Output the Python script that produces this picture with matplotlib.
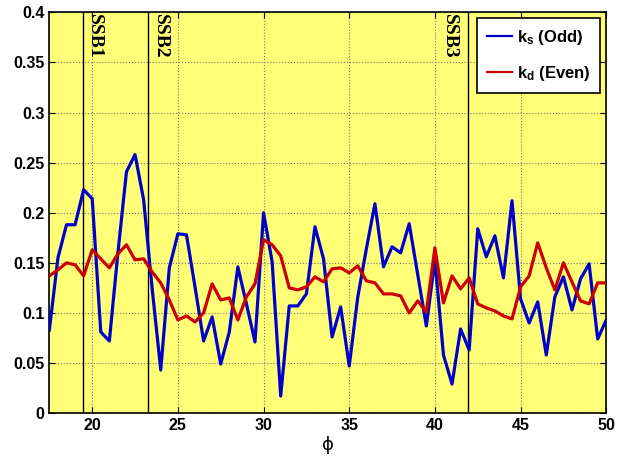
import matplotlib
matplotlib.use("Agg")
import matplotlib.pyplot as plt
import matplotlib.ticker as mticker
import numpy as np

plt.rcParams["font.family"] = ["Liberation Sans", "DejaVu Sans"]
plt.rcParams["font.weight"] = "bold"
plt.rcParams["mathtext.fontset"] = "custom"
plt.rcParams["mathtext.bf"] = "Liberation Sans:bold"
plt.rcParams["mathtext.rm"] = "Liberation Sans:bold"
plt.rcParams["mathtext.default"] = "bf"

# ── data ─────────────────────────────────────────────────────
phi = np.arange(17.5, 50.01, 0.5)

k_s = [0.083, 0.155, 0.188, 0.188, 0.223, 0.214, 0.081, 0.072, 0.160, 0.241,
       0.258, 0.213, 0.124, 0.043, 0.145, 0.179, 0.178, 0.126, 0.072, 0.096,
       0.049, 0.081, 0.146, 0.109, 0.071, 0.200, 0.151, 0.017, 0.107, 0.107,
       0.119, 0.186, 0.154, 0.076, 0.106, 0.047, 0.116, 0.164, 0.209, 0.146,
       0.166, 0.160, 0.189, 0.138, 0.087, 0.153, 0.058, 0.029, 0.084, 0.063,
       0.184, 0.156, 0.177, 0.135, 0.212, 0.114, 0.090, 0.111, 0.058, 0.116,
       0.136, 0.103, 0.134, 0.149, 0.074, 0.093]

k_d = [0.137, 0.143, 0.150, 0.148, 0.137, 0.163, 0.154, 0.145, 0.159, 0.168,
       0.153, 0.154, 0.141, 0.130, 0.113, 0.093, 0.097, 0.091, 0.100, 0.129,
       0.113, 0.115, 0.093, 0.116, 0.129, 0.173, 0.168, 0.157, 0.125, 0.123,
       0.126, 0.136, 0.131, 0.144, 0.145, 0.140, 0.147, 0.132, 0.130, 0.119,
       0.119, 0.117, 0.100, 0.112, 0.101, 0.165, 0.110, 0.137, 0.124, 0.135,
       0.109, 0.105, 0.102, 0.097, 0.094, 0.126, 0.137, 0.170, 0.145, 0.123,
       0.150, 0.131, 0.112, 0.109, 0.130, 0.130]

ssb_pos = [19.45, 23.26, 41.91]
ssb_names = ["SSB1", "SSB2", "SSB3"]
ssb_side = ["right", "right", "left"]   # label side relative to the line

y_ticks = [0, 0.05, 0.1, 0.15, 0.2, 0.25, 0.3, 0.35, 0.4]
x_ticks = [20, 25, 30, 35, 40, 45, 50]

# ── plot ─────────────────────────────────────────────────────
fig = plt.figure(figsize=(6.25, 4.57), dpi=100)
ax = fig.add_axes([0.079, 0.096, 0.891, 0.877])
ax.set_facecolor("#ffff78")

for x, name, side in zip(ssb_pos, ssb_names, ssb_side):
    ax.axvline(x, color="black", linewidth=1.0, zorder=3)
    if side == "right":
        tx, ha = x + 0.2, "left"
    else:
        tx, ha = x - 0.55, "right"
    ax.text(tx, 0.398, name, rotation=270, ha=ha, va="top",
            family=["Liberation Serif"], fontweight="bold", fontsize=14, zorder=4)

ax.plot(phi, k_s, color="#0000cc", linewidth=2.3, label=r"k$_s$ (Odd)", zorder=5)
ax.plot(phi, k_d, color="#cc0000", linewidth=2.3, label=r"k$_d$ (Even)", zorder=5)

ax.set_xlim(17.5, 50)
ax.set_ylim(0, 0.4)
ax.set_xticks(x_ticks)
ax.set_yticks(y_ticks)
ax.yaxis.set_major_formatter(mticker.FuncFormatter(lambda v, _: f"{v:g}"))
ax.tick_params(direction="in", top=True, right=True, labelsize=11.5, length=4)
for lab in ax.get_xticklabels() + ax.get_yticklabels():
    lab.set_fontweight("bold")
ax.grid(True, linestyle=":", color="#777777", linewidth=0.8)
for sp in ax.spines.values():
    sp.set_linewidth(1.2)

ax.set_xlabel("ϕ", family=["DejaVu Sans"], fontweight="normal", fontsize=13, labelpad=2)

leg = ax.legend(loc="upper right", fontsize=12, fancybox=False, framealpha=1,
                edgecolor="black", handlelength=1.5, handletextpad=0.3,
                borderaxespad=0.35, labelspacing=1.0, borderpad=0.6)
leg.get_frame().set_linewidth(1.2)
for t in leg.get_texts():
    t.set_fontweight("bold")
for h in leg.get_lines():
    h.set_linewidth(1.6)

fig.savefig("out.png", dpi=100)
